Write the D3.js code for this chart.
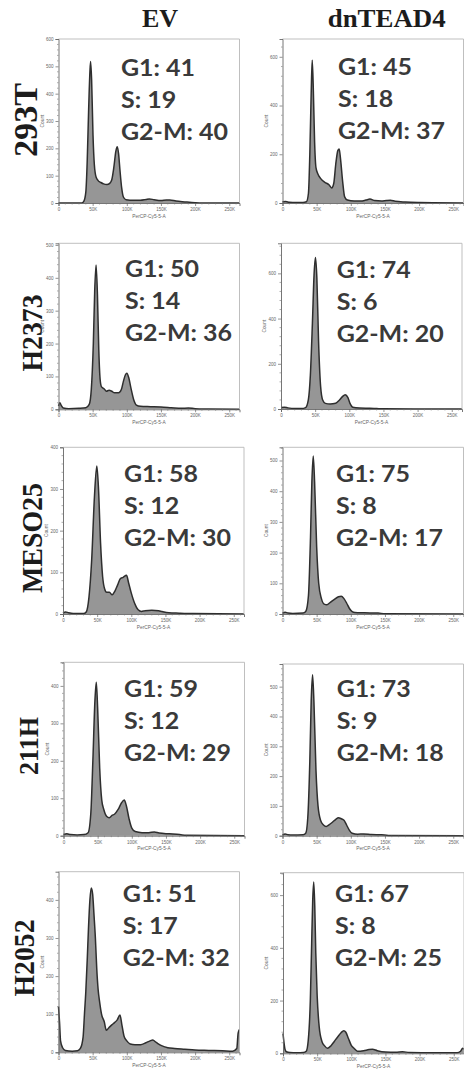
<!DOCTYPE html>
<html><head><meta charset="utf-8">
<script src="https://cdn.jsdelivr.net/npm/d3@7/dist/d3.min.js"></script>
<style>body{margin:0;background:#fff}svg{display:block}</style>
</head><body>
<svg id="c" width="464" height="1073"></svg>
<script>
// ---------------- DATA ----------------
const columns = ["EV", "dnTEAD4"];
const cellLines = ["293T", "H2373", "MESO25", "211H", "H2052"];
const g1Pct = [[41, 45], [50, 74], [58, 75], [59, 73], [51, 67]];
const sPct = [[19, 18], [14, 6], [12, 8], [12, 9], [17, 8]];
const g2mPct = [[40, 37], [36, 20], [30, 17], [29, 18], [32, 25]];
const xTickValues = [0, 50, 100, 150, 200, 250];
const xTickLabels = ["0", "50K", "100K", "150K", "200K", "250K"];
const xAxisTitle = "PerCP-Cy5-5-A";
const yAxisTitle = "Count";
const xMax = 265;
const yMax = [[600, 673], [505, 733], [400, 543], [463, 576], [474, 685]];
const yStep = [[100, 200], [100, 200], [100, 100], [100, 100], [100, 200]];

// histograms: [PerCP-Cy5-5-A (K), count]
const hist293T_EV = [[0,0],[20,0],[34,0],[37,6],[40,40],[42,150],[44,330],[46,480],[47,518],[48.5,450],[50.5,250],[52.5,140],[55,95],[58,82],[62,75],[66,70],[71,68],[75,72],[78,85],[81,130],[84,190],[86,206],[88,180],[90,120],[92.5,55],[95,22],[99,12],[110,10],[120,10],[128,13],[133,15],[140,12],[150,9],[158,11],[163,11],[172,7],[185,4],[200,1],[210,0],[265,0]];
const hist293T_DN = [[0,5],[5,6],[10,3],[20,2],[30,2],[35,5],[38,40],[40,200],[42,450],[43.5,586],[45,480],[47,250],[49,145],[52,118],[56,100],[62,85],[68,75],[72,62],[75,80],[78,160],[81,215],[83,222],[85,180],[88,90],[91,25],[95,12],[105,8],[115,8],[122,12],[128,16],[135,10],[145,8],[152,10],[158,11],[165,7],[180,4],[200,2],[220,1],[265,0]];
const histH2373_EV = [[0,10],[2,20],[4,12],[7,4],[15,2],[30,3],[40,5],[45,15],[48,60],[51,200],[53,360],[55,439],[57,350],[59,180],[61,90],[63,68],[67,62],[70,55],[74,58],[78,55],[82,50],[88,50],[92,60],[95,85],[98,105],[100,110],[103,95],[106,65],[110,30],[114,13],[120,9],[135,8],[150,7],[165,5],[180,3],[190,4],[200,2],[220,1],[265,0]];
const histH2373_DN = [[0,7],[5,8],[10,5],[20,2],[30,2],[36,6],[40,40],[43,150],[46,380],[48.5,600],[50.5,670],[52.5,580],[55,300],[58,100],[61,40],[65,25],[72,22],[80,25],[85,38],[90,55],[94,63],[98,50],[101,25],[105,8],[115,4],[130,3],[140,2],[150,1],[265,0]];
const histMESO25_EV = [[0,2],[4,5],[8,3],[15,1],[30,1],[34,5],[38,40],[42,130],[46,280],[49.5,355],[52,300],[55,170],[58,90],[61,60],[64,52],[68,52],[72,46],[76,55],[80,70],[84,85],[88,88],[93,93],[96,75],[100,50],[105,25],[110,10],[115,6],[120,8],[130,9],[140,8],[145,6],[155,3],[170,2],[190,1],[265,0]];
const histMESO25_DN = [[0,3],[4,6],[8,3],[15,2],[30,3],[34,8],[38,60],[41,250],[43,430],[45,515],[47,430],[50,220],[53,100],[57,50],[61,32],[65,30],[70,38],[76,48],[82,56],[86,58],[90,50],[94,35],[98,18],[102,8],[106,5],[120,4],[140,3],[150,1],[265,0]];
const hist211H_EV = [[0,3],[5,5],[10,3],[20,2],[30,3],[36,8],[40,60],[43,200],[46,360],[48,410],[50,340],[53,180],[56,95],[59,70],[63,52],[67,48],[71,54],[75,58],[80,70],[85,88],[89,95],[92,80],[96,45],[100,20],[105,11],[115,8],[125,8],[133,10],[140,7],[155,5],[170,3],[180,1],[265,0]];
const hist211H_DN = [[0,3],[4,6],[8,3],[15,2],[30,3],[34,8],[37,60],[40,250],[42,450],[44,540],[46,450],[49,220],[52,100],[56,50],[60,36],[64,31],[68,36],[73,45],[78,55],[82,60],[86,57],[90,52],[94,35],[98,18],[102,8],[110,5],[119,6],[130,4],[145,3],[155,1],[265,0]];
const histH2052_EV = [[0,120],[1.5,80],[3,30],[6,12],[10,5],[20,3],[28,4],[32,10],[36,40],[38,100],[40,160],[42,240],[44,330],[46,400],[48,431],[50,415],[52,360],[54,300],[56,220],[58,165],[60,135],[63,100],[67,80],[70,58],[74,65],[78,72],[82,78],[86,85],[90,98],[93,70],[96,42],[100,30],[105,22],[112,20],[120,20],[128,25],[134,30],[138,32],[143,26],[150,18],[160,12],[170,10],[185,8],[200,6],[220,5],[240,4],[255,3],[261,10],[263,50],[265,60]];
const histH2052_DN = [[0,75],[1.5,40],[3,15],[5,6],[10,3],[20,2],[30,3],[34,8],[37,50],[40,200],[42,420],[43.5,580],[45,650],[46.5,560],[48,380],[50,220],[53,100],[57,45],[61,28],[65,19],[70,28],[75,45],[80,62],[85,78],[89,86],[92,80],[96,55],[100,30],[104,19],[109,8],[118,10],[126,14],[131,15],[138,10],[150,5],[165,4],[175,6],[185,3],[220,2],[255,2],[260,8],[263,19],[265,15]];

const hists = [
  [hist293T_EV, hist293T_DN],
  [histH2373_EV, histH2373_DN],
  [histMESO25_EV, histMESO25_DN],
  [hist211H_EV, hist211H_DN],
  [histH2052_EV, histH2052_DN]
];

// ---------------- LAYOUT ----------------
const L = {
  plotW: 181,
  colLeft: [[58.5, 282.5], [58.5, 281], [63, 282.5], [63.5, 282.5], [58.5, 283]],
  top: [[39, 39], [243.3, 243.3], [447.3, 447.3], [662.3, 664], [871.7, 872.7]],
  bottom: [[203, 203], [409.3, 409], [614, 614], [835.7, 835.7], [1052.3, 1053.3]],
  statX: [[121, 338], [125, 336.7], [124, 336], [124, 336.7], [122.7, 335]],
  statY: [[76, 75], [277, 277.7], [482.3, 482.3], [696.7, 696.7], [901.7, 901.7]],
  statGap: 32,
  headerX: [160, 386.7], headerY: 26.7,
  rowLabelX: [37, 42, 42, 38, 34],
  rowLabelY: [120, 333, 538, 746, 958],
  rowLabelSize: [33, 30, 30, 28, 30],
  rowLabelLen: [74, 77, 110, 58, 77]
};

const svg = d3.select("#c");
const serif = "'Liberation Serif', 'Times New Roman', serif";
const sans = "Lato, 'Open Sans', sans-serif";

// column headers
svg.selectAll("text.hdr").data(columns).join("text").attr("class", "hdr")
  .attr("x", (d, i) => L.headerX[i]).attr("y", L.headerY)
  .attr("text-anchor", "middle").attr("font-family", serif).attr("font-weight", "bold")
  .attr("font-size", 26).attr("fill", "#1c1c1c").text(d => d)
  .each(function (d, i) { if (i === 1) d3.select(this).attr("textLength", 118).attr("lengthAdjust", "spacingAndGlyphs"); });

// row labels
svg.selectAll("text.row").data(cellLines).join("text").attr("class", "row")
  .attr("transform", (d, i) => `translate(${L.rowLabelX[i]},${L.rowLabelY[i]}) rotate(-90)`)
  .attr("text-anchor", "middle").attr("font-family", serif).attr("font-weight", "bold")
  .attr("font-size", (d, i) => L.rowLabelSize[i]).attr("fill", "#1c1c1c")
  .attr("textLength", (d, i) => L.rowLabelLen[i]).attr("lengthAdjust", "spacingAndGlyphs")
  .text(d => d);

let statScale = null;

cellLines.forEach((cl, r) => {
  columns.forEach((col, c) => {
    const left = L.colLeft[r][c], top = L.top[r][c], bottom = L.bottom[r][c];
    const x = d3.scaleLinear().domain([0, xMax]).range([left, left + L.plotW]);
    const y = d3.scaleLinear().domain([0, yMax[r][c]]).range([bottom, top]);
    const g = svg.append("g");
    const data = hists[r][c];

    const area = d3.area().x(d => x(d[0])).y0(y(0)).y1(d => y(d[1])).curve(d3.curveMonotoneX);
    const line = d3.line().x(d => x(d[0])).y(d => y(d[1])).curve(d3.curveMonotoneX);
    g.append("path").datum(data).attr("d", area).attr("fill", "#969696");
    g.append("path").datum(data).attr("d", line).attr("fill", "none")
      .attr("stroke", "#2e2e2e").attr("stroke-width", 1.5).attr("stroke-linejoin", "round");

    // frame (top/right light)
    g.append("path").attr("d", `M${left},${top}H${left + L.plotW}V${bottom}`)
      .attr("fill", "none").attr("stroke", "#b8b8b8").attr("stroke-width", 0.9);

    // y axis
    const yTicks = d3.range(0, yMax[r][c] + 1, yStep[r][c]);
    const ya = g.append("g").attr("transform", `translate(${left},0)`)
      .call(d3.axisLeft(y).tickValues(yTicks).tickSize(3).tickPadding(2).tickFormat(d3.format("d")));
    const yMinor = d3.range(0, yMax[r][c] + 1, yStep[r][c] / 5).filter(v => !yTicks.includes(v));
    g.selectAll(null).data(yMinor).join("line")
      .attr("x1", left - 1.5).attr("x2", left).attr("y1", d => y(d)).attr("y2", d => y(d))
      .attr("stroke", "#777").attr("stroke-width", 0.6);

    // x axis
    const xa = g.append("g").attr("transform", `translate(0,${bottom})`)
      .call(d3.axisBottom(x).tickValues(xTickValues).tickSize(3).tickPadding(2)
        .tickFormat((d, i) => xTickLabels[i]));
    const xMinor = d3.range(0, xMax, 10).filter(v => !xTickValues.includes(v));
    g.selectAll(null).data(xMinor).join("line")
      .attr("x1", d => x(d)).attr("x2", d => x(d)).attr("y1", bottom).attr("y2", bottom + 1.5)
      .attr("stroke", "#777").attr("stroke-width", 0.6);

    [ya, xa].forEach(a => {
      a.select(".domain").attr("stroke", "#666").attr("stroke-width", 0.9);
      a.selectAll(".tick line").attr("stroke", "#666").attr("stroke-width", 0.7);
      a.selectAll(".tick text").attr("font-size", 4.5).attr("fill", "#666")
        .attr("font-family", "Arial, 'Liberation Sans', sans-serif");
    });

    g.append("text").attr("x", (left + left + L.plotW) / 2).attr("y", bottom + 14.5)
      .attr("text-anchor", "middle").attr("font-size", 4.8).attr("fill", "#666")
      .attr("font-family", "Arial, 'Liberation Sans', sans-serif").text(xAxisTitle);
    g.append("text").attr("transform", `translate(${left - 15},${(top + bottom) / 2}) rotate(-90)`)
      .attr("text-anchor", "middle").attr("font-size", 4.8).attr("fill", "#666")
      .attr("font-family", "Arial, 'Liberation Sans', sans-serif").text(yAxisTitle);

    // statistics
    const lines = [`G1: ${g1Pct[r][c]}`, `S: ${sPct[r][c]}`, `G2-M: ${g2mPct[r][c]}`];
    const texts = lines.map((t, k) => g.append("text")
      .attr("font-family", sans).attr("font-weight", 700).attr("font-size", 22)
      .attr("fill", "#3a3a3a").text(t));
    if (statScale === null) {
      const w = texts[2].node().getComputedTextLength();
      statScale = 107 / w;
    }
    texts.forEach((t, k) => t.attr("transform",
      `translate(${L.statX[r][c]},${L.statY[r][c] + k * L.statGap}) scale(${statScale},1)`));
  });
});
</script>
</body></html>
